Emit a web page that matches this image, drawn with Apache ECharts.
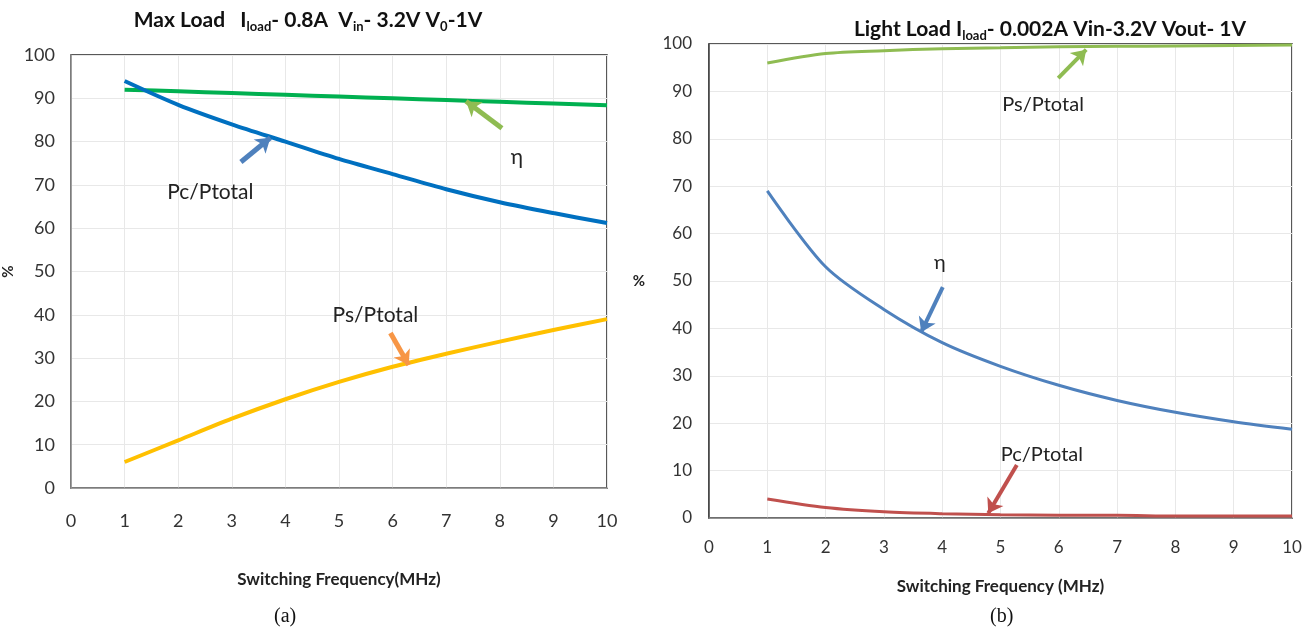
<!DOCTYPE html>
<html>
<head>
<meta charset="utf-8">
<script src="https://cdn.jsdelivr.net/npm/echarts@6/dist/echarts.min.js"></script>
<style>
html,body{margin:0;padding:0;background:#fff;}
#c{width:1315px;height:634px;}
</style>
</head>
<body>
<div id="c"></div>
<script>
// ---- data ----
const freq = [1,2,3,4,5,6,7,8,9,10];
// (a) Max load
const aEta = [92,91.6,91.2,90.8,90.4,90,89.6,89.2,88.8,88.4];
const aPc  = [94,88.5,84,80,76,72.5,69,66,63.5,61.2];
const aPs  = [6,11,16,20.5,24.5,28,31,33.8,36.5,39];
// (b) Light load
const bPs  = [96,98,98.6,99,99.2,99.4,99.5,99.6,99.7,99.8];
const bEta = [69,53,44,37,32,28,24.8,22.3,20.3,18.7];
const bPc  = [4,2.2,1.3,0.9,0.7,0.6,0.6,0.4,0.4,0.4];
// annotation arrows [tailX, tailY, headX, headY] and label positions [x, y]
const aEtaArrow = [8.04,83.1,7.37,89.3]; const aEtaLabel = [8.32,76.5];
const aPcArrow  = [3.17,75.3,3.72,80.9]; const aPcLabel  = [2.6,68.2];
const aPsArrow  = [5.96,35.8,6.3,28.4];  const aPsLabel  = [5.68,39.8];
const bPsArrow  = [5.99,92.8,6.47,98.8]; const bPsLabel  = [5.73,87.3];
const bEtaArrow = [4.01,48.7,3.64,39.2]; const bEtaLabel = [3.96,53.8];
const bPcArrow  = [5.28,11.2,4.79,1.0];  const bPcLabel  = [5.71,13.4];

const FONT = 'Lato, "Open Sans", sans-serif';
const zip = (xs, ys) => xs.map((x,i)=>[x, ys[i]]);

function arrow(a, color, w){
  return {
    silent:true, symbol:['none','arrow'], symbolSize:[14,14],
    lineStyle:{color:color, width:w, type:'solid'}, label:{show:false},
    data:[[{coord:[a[0],a[1]]},{coord:[a[2],a[3]]}]]
  };
}
function lbl(p, text, size){
  return {
    silent:true,
    data:[{coord:p, symbol:'circle', symbolSize:0,
      label:{show:true, position:'inside', formatter:text, color:'#222', fontFamily:FONT, fontSize:size}}]
  };
}
function line(name, xi, data, color, w, arr, arrColor, lab, labText, labSize){
  return {
    name:name, type:'line', xAxisIndex:xi, yAxisIndex:xi, data:data,
    smooth:0.3, showSymbol:false, symbol:'none',
    lineStyle:{color:color, width:w}, itemStyle:{color:color},
    markLine: arrow(arr, arrColor, w+1),
    markPoint: lbl(lab, labText, labSize),
    z:3
  };
}

const xAxisBase = (gi, margin, name, nameGap, size, lineColor) => ({
  gridIndex:gi, type:'value', min:0, max:10, interval:1,
  axisLine:{show:true, lineStyle:{color:lineColor, width:1.5}},
  axisTick:{show:false},
  axisLabel:{color:'#333', fontFamily:FONT, fontSize:size, margin:margin},
  splitLine:{show:true, lineStyle:{color:'#e8e8e8', width:1}},
  name:name, nameLocation:'middle', nameGap:nameGap,
  nameTextStyle:{color:'#222', fontFamily:FONT, fontSize:17, fontWeight:'bold'}
});
const yAxisBase = (gi, margin, nameGap, rot, size, lineColor) => ({
  gridIndex:gi, type:'value', min:0, max:100, interval:10,
  axisLine:{show:true, lineStyle:{color:lineColor, width:1.5}},
  axisTick:{show:false},
  axisLabel:{color:'#333', fontFamily:FONT, fontSize:size, margin:margin},
  splitLine:{show:true, lineStyle:{color:'#e8e8e8', width:1}},
  name:'%', nameLocation:'middle', nameGap:nameGap, nameRotate:rot,
  nameTextStyle:{color:'#222', fontFamily:FONT, fontSize:15, fontWeight:'bold'}
});

const chart = echarts.init(document.getElementById('c'), null, {renderer:'canvas'});
chart.setOption({
  backgroundColor:'#fff',
  animation:false,
  title:[
    {text:'Max Load   I{s|load}- 0.8A  V{s|in}- 3.2V V{s|0}-1V', left:303, top:3, textAlign:'center',
      textStyle:{fontFamily:FONT, fontSize:21, fontWeight:'bold', color:'#111',
        rich:{s:{fontFamily:FONT, fontSize:13, fontWeight:'bold', color:'#111', padding:[12,0,0,0]}}}},
    {text:'Light Load I{s|load}- 0.002A Vin-3.2V Vout- 1V', left:1045, top:12, textAlign:'center',
      textStyle:{fontFamily:FONT, fontSize:21, fontWeight:'bold', color:'#111',
        rich:{s:{fontFamily:FONT, fontSize:13, fontWeight:'bold', color:'#111', padding:[12,0,0,0]}}}}
  ],
  grid:[
    {left:70, top:55, width:537, height:433, show:true, borderColor:'#222', borderWidth:1.5, backgroundColor:'#fff'},
    {left:709, top:44, width:583, height:474, show:true, borderColor:'#222', borderWidth:1.5, backgroundColor:'#fff'}
  ],
  xAxis:[
    xAxisBase(0, 24, 'Switching Frequency(MHz)', 83, 18, '#888'),
    xAxisBase(1, 21, 'Switching Frequency (MHz)', 60, 17, '#777')
  ],
  yAxis:[
    yAxisBase(0, 16, 55, 90, 18, '#888'),
    yAxisBase(1, 17, 64, 0, 17, '#444')
  ],
  series:[
    line('η', 0, zip(freq,aEta), '#00b050', 4, aEtaArrow, '#8fbc52', aEtaLabel, 'η', 21),
    line('Pc/Ptotal', 0, zip(freq,aPc), '#0070c0', 4, aPcArrow, '#4f81bd', aPcLabel, 'Pc/Ptotal', 21),
    line('Ps/Ptotal', 0, zip(freq,aPs), '#ffc000', 4, aPsArrow, '#f79646', aPsLabel, 'Ps/Ptotal', 21),
    line('Ps/Ptotal', 1, zip(freq,bPs), '#8fbc52', 3, bPsArrow, '#8fbc52', bPsLabel, 'Ps/Ptotal', 20),
    line('η', 1, zip(freq,bEta), '#4f81bd', 3, bEtaArrow, '#4f81bd', bEtaLabel, 'η', 20),
    line('Pc/Ptotal', 1, zip(freq,bPc), '#c0504d', 3, bPcArrow, '#c0504d', bPcLabel, 'Pc/Ptotal', 20)
  ],
  graphic:[
    {type:'text', left:274, top:607, style:{text:'(a)', font:'20px "Liberation Serif", serif', fill:'#111'}},
    {type:'text', left:990, top:607, style:{text:'(b)', font:'20px "Liberation Serif", serif', fill:'#111'}}
  ]
});
</script>
</body>
</html>
